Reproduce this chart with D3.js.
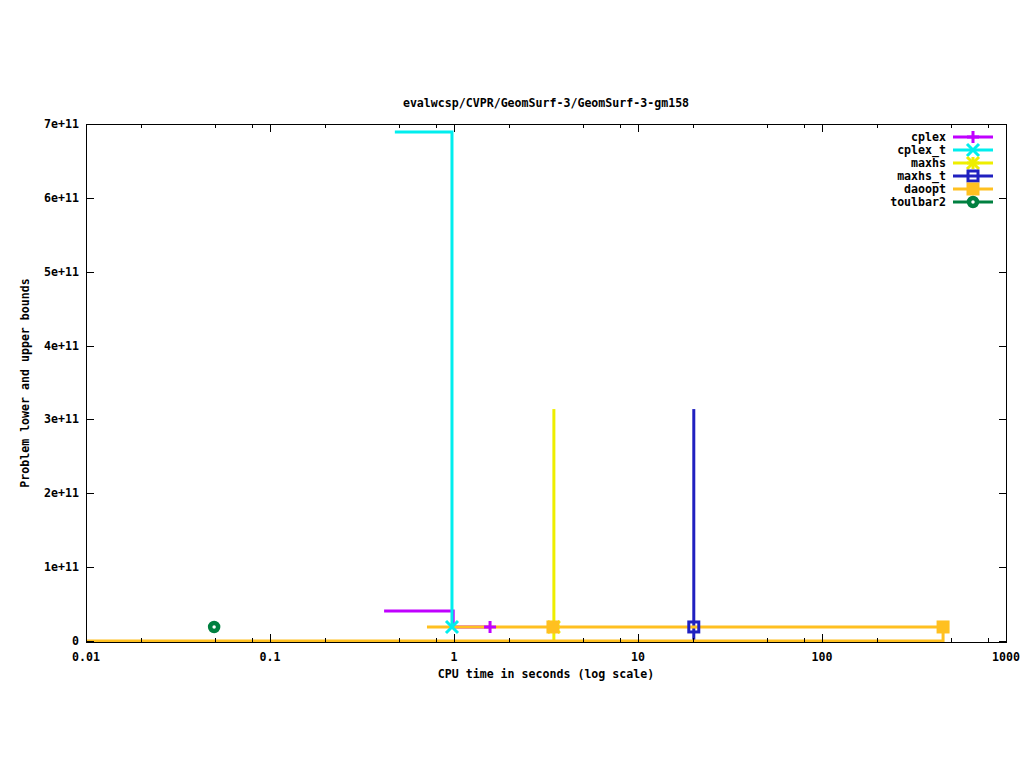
<!DOCTYPE html>
<html><head><meta charset="utf-8">
<script src="https://cdn.jsdelivr.net/npm/d3@7"></script>
<style>
html,body{margin:0;padding:0;background:#fff;}
text{font-family:"DejaVu Sans Mono","Liberation Mono",monospace;font-weight:bold;font-size:11.6px;fill:#000;}
</style></head>
<body>
<svg id="c" width="1024" height="768"></svg>
<script>
// ---- data ----
const title = "evalwcsp/CVPR/GeomSurf-3/GeomSurf-3-gm158";
const xLabel = "CPU time in seconds (log scale)";
const yLabel = "Problem lower and upper bounds";
const seriesNames = ["cplex","cplex_t","maxhs","maxhs_t","daoopt","toulbar2"];
const seriesColors = ["#c000ff","#00eeee","#eeee00","#2020c0","#ffc020","#008040"];
const seriesMarkers = ["plus","cross","star","square","fsquare","circle"];
// upper bound steps (time, value)
const ubTimes = [
  [0.417, 0.99, 1.57],
  [0.477, 0.975],
  [3.49, 3.49],
  [20.1, 20.1],
  [0.713, 3.45, 455],
  [0.0497, 0.0497]
];
const ubValues = [
  [4.06e10, 1.9e10, 1.9e10],
  [6.89e11, 1.9e10],
  [3.14e11, 1.9e10],
  [3.14e11, 1.9e10],
  [1.9e10, 1.9e10, 1.9e10],
  [1.9e10, 1.9e10]
];
// lower bound steps (time, value)
const lbTimes = [
  [],
  [],
  [3.49, 3.49],
  [20.1, 20.1],
  [0.01, 455, 455],
  []
];
const lbValues = [
  [],
  [],
  [0, 1.9e10],
  [0, 1.9e10],
  [0, 0, 1.9e10],
  []
];
// marker points
const markTimes = [[1.57],[0.975],[3.49],[20.1],[3.45,455],[0.0497]];
const markValues = [[1.9e10],[1.9e10],[1.9e10],[1.9e10],[1.9e10,1.9e10],[1.9e10]];
const xTicks = [0.01,0.1,1,10,100,1000];
const xTickLabels = ["0.01","0.1","1","10","100","1000"];
const yTicks = [0,1e11,2e11,3e11,4e11,5e11,6e11,7e11];
const yTickLabels = ["0","1e+11","2e+11","3e+11","4e+11","5e+11","6e+11","7e+11"];

// ---- layout ----
const L=86, R=1006, T=124, B=641;
const svg = d3.select("#c");
const x = d3.scaleLog().domain([0.01,1000]).range([L,R]);
const y = d3.scaleLinear().domain([0,7e11]).range([B,T]);

// minor ticks at 2,5,8 in each decade
const minor=[];
for (let d=-2; d<3; d++) for (const m of [2,5,8]) minor.push(m*Math.pow(10,d));

const g = svg.append("g");
// data lines
const line = d3.line().x(d=>x(d[0])).y(d=>y(d[1])).curve(d3.curveStepAfter);
seriesNames.forEach((n,i)=>{
  const ub = ubTimes[i].map((t,j)=>[t,ubValues[i][j]]);
  const lb = lbTimes[i].map((t,j)=>[t,lbValues[i][j]]);
  if (lb.length) g.append("path").attr("d",line(lb)).attr("fill","none")
     .attr("stroke",seriesColors[i]).attr("stroke-width",3);
  if (ub.length) g.append("path").attr("d",line(ub)).attr("fill","none")
     .attr("stroke",seriesColors[i]).attr("stroke-width",3);
});

function marker(sel, type, cx, cy, col){
  const s=6;
  const gg = sel.append("g").attr("transform",`translate(${cx},${cy})`);
  if (type==="plus"||type==="star"){
    gg.append("path").attr("d",`M${-s},0H${s}M0,${-s}V${s}`).attr("stroke",col).attr("stroke-width",3).attr("fill","none");
  }
  if (type==="cross"||type==="star"){
    gg.append("path").attr("d",`M${-s},${-s}L${s},${s}M${-s},${s}L${s},${-s}`).attr("stroke",col).attr("stroke-width",3).attr("fill","none");
  }
  if (type==="square"){
    gg.append("rect").attr("x",-5).attr("y",-5).attr("width",10).attr("height",10).attr("fill","none").attr("stroke",col).attr("stroke-width",3);
  }
  if (type==="fsquare"){
    gg.append("rect").attr("x",-6.5).attr("y",-6.5).attr("width",13).attr("height",13).attr("fill",col);
  }
  if (type==="circle"){
    gg.append("circle").attr("r",4).attr("fill","#fff").attr("stroke",col).attr("stroke-width",4.5);
  }
}
seriesNames.forEach((n,i)=>{
  markTimes[i].forEach((t,j)=>marker(g, seriesMarkers[i], x(t), y(markValues[i][j]), seriesColors[i]));
});

// axes: border
svg.append("rect").attr("x",L+0.5).attr("y",T+0.5).attr("width",R-L).attr("height",B-T+1)
  .attr("fill","none").attr("stroke","#000").attr("stroke-width",1);

// x ticks (bottom & top, inward)
const xa = svg.append("g");
xTicks.forEach((t,i)=>{
  const px=Math.round(x(t))+0.5;
  xa.append("line").attr("x1",px).attr("x2",px).attr("y1",B+1).attr("y2",B-7).attr("stroke","#000");
  xa.append("line").attr("x1",px).attr("x2",px).attr("y1",T).attr("y2",T+8).attr("stroke","#000");
  xa.append("text").attr("x",x(t)).attr("y",B+20).attr("text-anchor","middle").text(xTickLabels[i]);
});
minor.forEach(t=>{
  const px=Math.round(x(t))+0.5;
  xa.append("line").attr("x1",px).attr("x2",px).attr("y1",B+1).attr("y2",B-3).attr("stroke","#000");
  xa.append("line").attr("x1",px).attr("x2",px).attr("y1",T).attr("y2",T+4).attr("stroke","#000");
});
// y ticks
const ya = svg.append("g");
yTicks.forEach((t,i)=>{
  const py=Math.round(y(t))+0.5;
  ya.append("line").attr("x1",L).attr("x2",L+8).attr("y1",py).attr("y2",py).attr("stroke","#000");
  ya.append("line").attr("x1",R-7).attr("x2",R+1).attr("y1",py).attr("y2",py).attr("stroke","#000");
  ya.append("text").attr("x",79).attr("y",y(t)+4).attr("text-anchor","end").text(yTickLabels[i]);
});

// titles
svg.append("text").attr("x",546).attr("y",107).attr("text-anchor","middle").text(title);
svg.append("text").attr("x",546).attr("y",678).attr("text-anchor","middle").text(xLabel);
svg.append("text").attr("transform","translate(29,383) rotate(-90)").attr("text-anchor","middle").text(yLabel);

// legend
const lg = svg.append("g");
seriesNames.forEach((n,i)=>{
  const ly = 137 + i*13;
  lg.append("text").attr("x",946).attr("y",ly+4).attr("text-anchor","end").text(n);
  lg.append("line").attr("x1",953).attr("x2",993).attr("y1",ly).attr("y2",ly).attr("stroke",seriesColors[i]).attr("stroke-width",3);
  marker(lg, seriesMarkers[i], 973, ly, seriesColors[i]);
});
</script>
</body></html>
